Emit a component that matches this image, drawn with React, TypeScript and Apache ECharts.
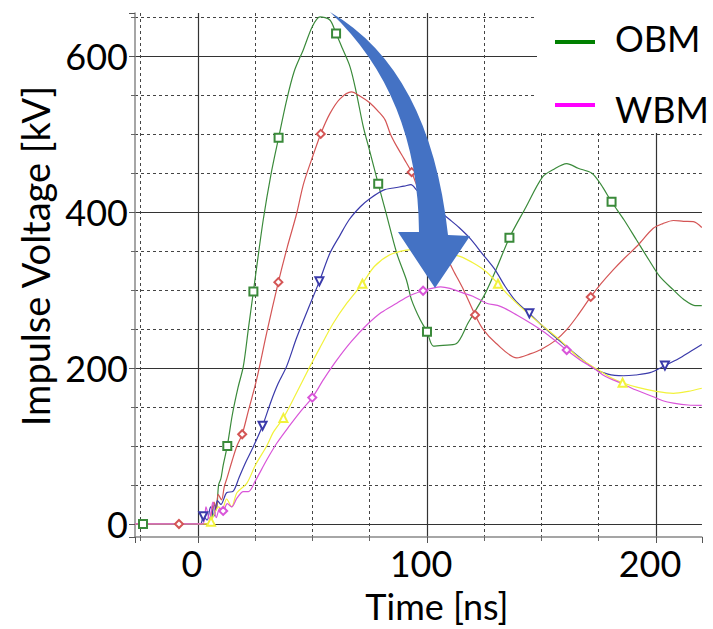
import React, { useEffect, useRef } from "react";
import * as echarts from "echarts";

type Pt = [number, number];

// Tick labels
const xTickLabels = [0, 100, 200];
const yTickLabels = [0, 200, 400, 600];

// OBM (green, squares)
const greenCurve: Pt[] = [
  [-27.5, 0], [4, 0], [6, 8], [7, 25], [8, 18], [9, 50], [10, 58], [11, 75],
  [15, 140], [17.5, 175], [19.8, 202], [22, 250], [25.3, 322], [28.5, 390], [32, 450],
  [38.7, 543], [42, 580], [46, 608], [50, 638], [53.3, 650], [57.6, 646],
  [63, 610], [66.4, 586], [69, 555], [72.2, 509], [75, 478], [82, 400], [86.8, 347],
  [91, 313], [93.3, 287], [97, 262], [102.8, 228], [107, 229], [112.7, 231], [118, 258],
  [125, 293], [130, 325], [143, 405], [150.4, 444.5], [155, 454], [161, 462], [166, 456],
  [172, 449.6], [176, 435], [186, 390], [191.5, 364], [197, 338], [201.7, 317],
  [207.6, 300], [212, 288], [217, 280], [220, 280],
];
const greenMarks: Pt[] = [
  [-24, 0], [12.8, 100], [24.2, 298], [35.2, 495], [60.3, 628.6], [78.7, 436],
  [100, 246.5], [136, 367], [180.6, 413],
];

// red, diamonds
const redCurve: Pt[] = [
  [-27.5, 0], [4, 0], [5.5, 10], [7, 28], [8, 20], [8.8, 38], [10.3, 31], [11.5, 48],
  [12.8, 60], [15, 82], [17, 100], [22, 145], [25.6, 185], [30, 245], [39, 355],
  [43.1, 398], [46, 435], [49.6, 467], [57.6, 526], [62, 545], [67, 554], [71, 548],
  [75, 540], [79, 528], [81.7, 518], [84, 500], [86.8, 484], [90, 468], [95, 438],
  [100, 402], [104, 372], [108, 346], [111.5, 325], [116, 300], [124.6, 249], [130, 232],
  [139.2, 213], [145, 218], [150, 224], [156, 235], [161, 249], [166, 268], [176, 308],
  [181.4, 326], [186, 340], [192, 357], [198.8, 379], [203, 385], [207.6, 389], [212, 388],
  [216.3, 387.6], [220, 380],
];
const redMarks: Pt[] = [
  [-8.3, 0], [19.3, 115], [35.1, 310], [53.6, 500], [93.3, 451], [121, 268], [171.5, 291],
];

// blue, down triangles
const blueCurve: Pt[] = [
  [-27.5, 0], [1, 0], [4, 5], [5.5, 22], [7, 10], [8.5, 30], [10, 25], [12.5, 40],
  [15.4, 42], [18, 60], [21, 80], [24, 98], [32, 158], [35, 180], [38.7, 202], [43, 238],
  [48, 275], [57.6, 347], [62, 370], [66, 390], [71, 407], [75, 417], [81, 428], [86, 431],
  [90, 433], [93, 435], [95.5, 428], [100, 415], [105, 402], [110, 390], [114, 380],
  [118.8, 366], [124, 347], [129.7, 326], [134, 305], [139, 285], [150, 255], [156.6, 238],
  [164, 220], [172.6, 200], [179, 192], [185.7, 190], [191, 191], [197.4, 194],
  [210, 212], [215, 221], [220, 230],
];
const blueMarks: Pt[] = [
  [2.3, 10], [28.2, 126], [53, 311], [144.7, 270], [203.9, 203],
];

// yellow, up triangles
const yellowCurve: Pt[] = [
  [-27.5, 0], [4, 0], [7, 12], [9, 22], [10.5, 18], [12.5, 32], [14.7, 22], [17, 40],
  [21.3, 52], [25, 75], [30, 100], [33, 118], [42, 162], [48.9, 202], [54, 230],
  [59, 257], [65, 283], [77, 330], [83.8, 345], [91, 351], [97, 352], [103, 350],
  [108, 347], [114.4, 343], [121.7, 332], [126, 323], [135, 295], [140.6, 279],
  [148, 260], [158, 236], [166, 214], [175, 197], [180, 188], [192, 175], [200, 170],
  [207.6, 167.5], [214, 170], [220, 174],
];
const yellowMarks: Pt[] = [
  [5.7, 3], [37.3, 136], [71.8, 308], [131, 308], [185.4, 181],
];

// WBM (magenta, diamonds)
const magentaCurve: Pt[] = [
  [-27.5, 0], [2, 0], [3.5, 22], [5, 5], [6.5, 28], [8, 8], [9.5, 20], [12.8, 26],
  [14.7, 22], [17, 33], [19.8, 41.5], [22, 41.5], [25, 55], [30, 82], [34.4, 103.5],
  [40, 126], [45, 145], [55, 186], [60.6, 210], [67, 234], [73.7, 255], [80, 271],
  [86.8, 283], [92, 292], [102, 302], [106, 304], [110, 302], [115.9, 296], [120, 292],
  [126, 283], [132, 279], [139.2, 268], [146, 256], [153, 242], [167, 210], [172.6, 200],
  [178, 189], [184.3, 181], [191, 172], [198.8, 163], [203, 158], [207.6, 155],
  [214, 152.5], [220, 152],
];
const magentaMarks: Pt[] = [
  [11, 16.7], [49.9, 162], [98.3, 299], [161, 223],
];

const ARROW_D =
  "M330,12 Q430,70 448,235 L470,236 L435,288 L398,232 L419,232 Q418,95 330,12 Z";

function build(curve: Pt[], marks: Pt[], symbol: string, rotate = 0) {
  const items: any[] = [
    ...curve.map((p) => ({ value: p })),
    ...marks.map((p) => ({ value: p, symbol, symbolSize: 8, symbolRotate: rotate })),
  ];
  items.sort((a, b) => a.value[0] - b.value[0]);
  return items;
}

function lineSeries(name: string, color: string, data: any[]) {
  return {
    type: "line",
    name,
    data,
    color,
    symbol: "none",
    showSymbol: true,
    showAllSymbol: true,
    smooth: 0.3,
    lineStyle: { width: 1.2, color },
    itemStyle: { color, borderColor: color, borderWidth: 1.2 },
    xAxisIndex: 0,
    yAxisIndex: 0,
    z: 3,
  };
}

const FONT = "Lato";

export default function App() {
  const ref = useRef<HTMLDivElement>(null);
  useEffect(() => {
    if (!ref.current) return;
    try {
      echarts.graphic.registerShape("bigArrow", echarts.graphic.extendPath(ARROW_D, {}) as any);
    } catch (e) {}
    const chart = echarts.init(ref.current, null, { renderer: "svg" });
    const X_MIN = -27.5, X_MAX = 220, Y_MIN = -16.7, Y_MAX = 655;
    const dashed = { type: [3, 3], color: "#444", width: 1 };
    const solid = { type: "solid", color: "#333", width: 1.2 };
    chart.setOption({
      animation: false,
      backgroundColor: "#fff",
      grid: { left: 135, right: 11.2, top: 13, bottom: 92, containLabel: false },
      xAxis: [
        {
          type: "value", min: X_MIN, max: X_MAX, minInterval: 25, maxInterval: 25,
          axisLine: { show: true, onZero: false, lineStyle: { color: "#888", width: 1.5 } },
          axisTick: { show: true, length: 4, lineStyle: { color: "#666" } },
          axisLabel: { show: false },
          splitLine: { show: true, showMinLine: false, showMaxLine: false, lineStyle: dashed },
        },
        {
          type: "value", min: X_MIN, max: X_MAX, minInterval: 100, maxInterval: 100, position: "bottom",
          axisLine: { show: false, onZero: false },
          axisTick: { show: true, length: 6, lineStyle: { color: "#555" } },
          axisLabel: {
            show: true, fontSize: 36, fontFamily: FONT, color: "#000", margin: 8,
            padding: [0, 12, 0, 0],
            formatter: (v: number) => (xTickLabels.includes(Math.round(v * 1000) / 1000) ? String(v) : ""),
          },
          splitLine: { show: true, showMinLine: false, showMaxLine: false, lineStyle: solid },
        },
      ],
      yAxis: [
        {
          type: "value", min: Y_MIN, max: Y_MAX, minInterval: 50, maxInterval: 50,
          axisLine: { show: true, onZero: false, lineStyle: { color: "#888", width: 1.5 } },
          axisTick: { show: true, length: 4, lineStyle: { color: "#666" } },
          axisLabel: { show: false },
          splitLine: { show: true, showMinLine: false, showMaxLine: false, lineStyle: dashed },
        },
        {
          type: "value", min: Y_MIN, max: Y_MAX, minInterval: 200, maxInterval: 200, position: "left",
          axisLine: { show: false, onZero: false },
          axisTick: { show: true, length: 6, lineStyle: { color: "#555" } },
          axisLabel: {
            show: true, fontSize: 36, fontFamily: FONT, color: "#000", margin: 7,
            padding: [10, 0, 0, 0],
            formatter: (v: number) => (yTickLabels.includes(Math.round(v * 1000) / 1000) ? String(v) : ""),
          },
          splitLine: { show: true, showMinLine: false, showMaxLine: false, lineStyle: solid },
        },
      ],
      series: [
        lineSeries("OBM", "#3a8a3a", build(greenCurve, greenMarks, "emptyRect")),
        lineSeries("Red", "#d45555", build(redCurve, redMarks, "emptyDiamond")),
        lineSeries("Blue", "#3a3aaa", build(blueCurve, blueMarks, "emptyTriangle", 180)),
        lineSeries("Yellow", "#f2f23c", build(yellowCurve, yellowMarks, "emptyTriangle")),
        lineSeries("WBM", "#d955d9", build(magentaCurve, magentaMarks, "emptyDiamond")),
      ],
      graphic: [
        { type: "rect", shape: { x: 537, y: 0, width: 176, height: 133 }, style: { fill: "#fff" }, z: 90 },
        { type: "rect", shape: { x: 555, y: 40, width: 40, height: 4 }, style: { fill: "#008000" }, z: 95 },
        { type: "text", x: 615, y: 38, z: 95, style: { text: "OBM", font: `36px ${FONT}`, fill: "#000", textAlign: "left", textVerticalAlign: "middle" } },
        { type: "rect", shape: { x: 555, y: 103, width: 40, height: 4 }, style: { fill: "#ff00ff" }, z: 95 },
        { type: "text", x: 615, y: 109, z: 95, style: { text: "WBM", font: `36px ${FONT}`, fill: "#000", textAlign: "left", textVerticalAlign: "middle" } },
        { type: "bigArrow", x: 0, y: 0, z: 50, style: { fill: "#4472C4" } },
        { type: "text", x: 437, y: 606, z: 95, style: { text: "Time [ns]", font: `36px ${FONT}`, fill: "#000", textAlign: "center", textVerticalAlign: "middle" } },
        { type: "text", x: 35, y: 256, rotation: Math.PI / 2, z: 95, style: { text: "Impulse Voltage [kV]", font: `38px ${FONT}`, fill: "#000", textAlign: "center", textVerticalAlign: "middle" } },
      ],
    });
    return () => chart.dispose();
  }, []);
  return <div ref={ref} style={{ position: "fixed", left: 0, top: 0, width: 713, height: 629 }} />;
}
